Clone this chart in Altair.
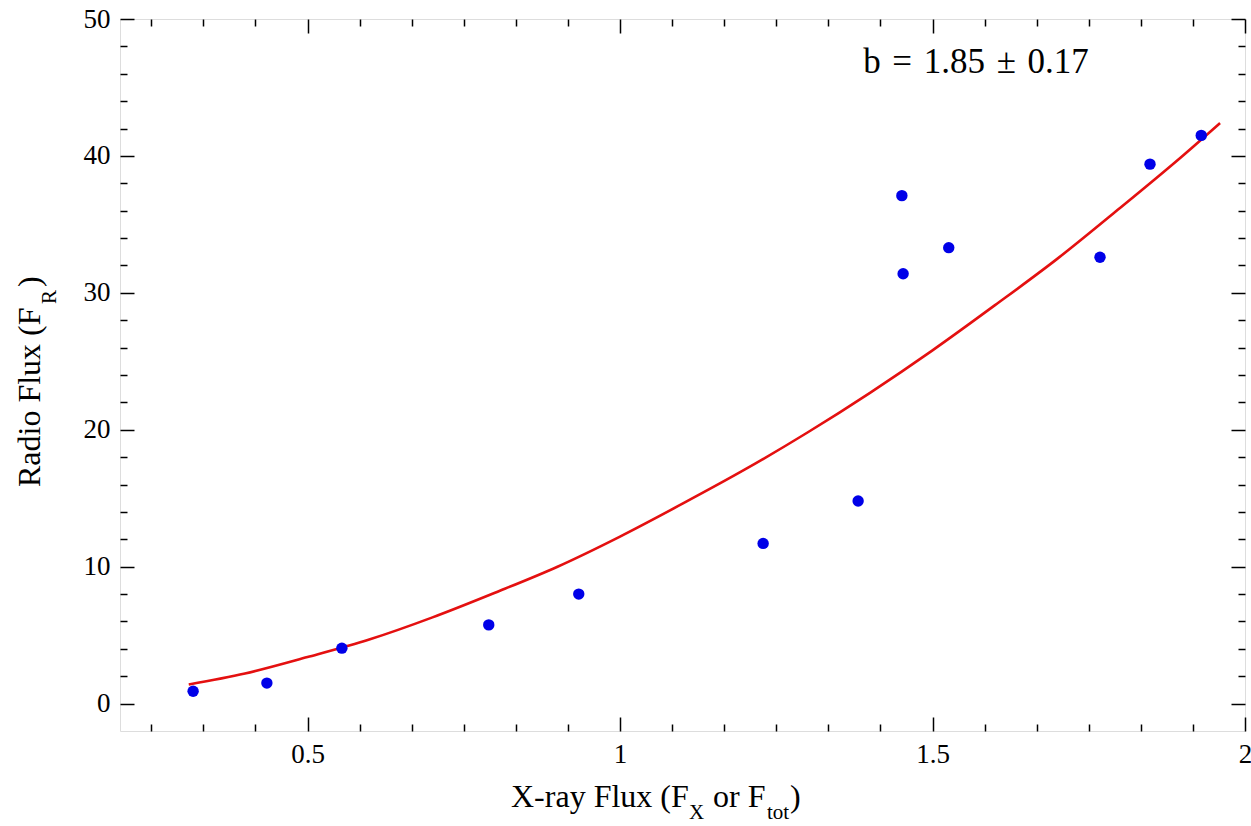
import altair as alt
import pandas as pd

# ---- data ----
x_flux = [0.317, 0.435, 0.555, 0.790, 0.934, 1.229, 1.381, 1.451, 1.453, 1.526, 1.768, 1.848, 1.930]
r_flux = [0.9, 1.5, 4.05, 5.75, 8.0, 11.7, 14.8, 37.1, 31.4, 33.3, 32.6, 39.4, 41.5]

fit_x = [0.31, 0.40, 0.50, 0.60, 0.70, 0.80, 0.90, 1.00, 1.10, 1.20, 1.30, 1.40, 1.50, 1.60, 1.70, 1.80, 1.90, 1.96]
fit_y = [1.4, 2.2, 3.4, 4.7, 6.3, 8.1, 10.0, 12.2, 14.6, 17.1, 19.8, 22.7, 25.8, 29.1, 32.5, 36.2, 40.0, 42.4]

x_major_ticks = [0.5, 1.0, 1.5, 2.0]
x_minor_ticks = [0.25, 0.3333, 0.4167, 0.5833, 0.6667, 0.75, 0.8333, 0.9167,
                 1.0833, 1.1667, 1.25, 1.3333, 1.4167, 1.5833, 1.6667, 1.75, 1.8333, 1.9167]
y_major_ticks = [0, 10, 20, 30, 40, 50]
y_minor_ticks = [2, 4, 6, 8, 12, 14, 16, 18, 22, 24, 26, 28, 32, 34, 36, 38, 42, 44, 46, 48]

annotation = "b\u2004=\u20041.85\u2004\u00b1\u20040.17"
ann_x = [1.389]
ann_y = [46.05]

FONT = "Liberation Serif"
W, H = 1125, 712
MAJ, MIN = 14, 7

pts = pd.DataFrame({"x": x_flux, "y": r_flux})
fit = pd.DataFrame({"x": fit_x, "y": fit_y})
ann = pd.DataFrame({"x": ann_x, "y": ann_y, "t": [annotation]})

xscale = alt.Scale(domain=[0.2, 2.0], nice=False, zero=False)
yscale = alt.Scale(domain=[-2, 50], nice=False, zero=False)

common = dict(grid=False, title=None, domain=False, tickColor="black", tickWidth=1.5,
              labelFont=FONT, labelFontSize=27, labelColor="black",
              labelFlush=False, labelOverlap=False)


def axis(orient, values, size, labels=False):
    kw = dict(common)
    kw.update(orient=orient, values=values, tickSize=size, offset=-size, labels=labels)
    if labels:
        kw["labelPadding"] = 10
        kw["labelExpr"] = "format(datum.value, '~g')"
    return alt.Axis(**kw)


line = alt.Chart(fit).mark_line(color="#e41010", strokeWidth=2.6, interpolate="monotone").encode(
    x=alt.X("x:Q", scale=xscale, axis=axis("bottom", x_major_ticks, MAJ, True)),
    y=alt.Y("y:Q", scale=yscale, axis=axis("left", y_major_ticks, MAJ, True)),
)

points = alt.Chart(pts).mark_circle(size=130, color="#0000e8", opacity=1).encode(
    x=alt.X("x:Q", scale=xscale, axis=axis("bottom", x_minor_ticks, MIN)),
    y=alt.Y("y:Q", scale=yscale, axis=axis("left", y_minor_ticks, MIN)),
)

ann_layer = alt.Chart(ann).mark_text(font=FONT, fontSize=35, align="left", baseline="alphabetic",
                                      color="black").encode(
    x=alt.X("x:Q", scale=xscale, axis=axis("top", x_major_ticks, MAJ)),
    y=alt.Y("y:Q", scale=yscale, axis=axis("right", y_major_ticks, MAJ)),
    text="t:N",
)

mirror_minor = alt.Chart(pts).mark_point(opacity=0).encode(
    x=alt.X("x:Q", scale=xscale, axis=axis("top", x_minor_ticks, MIN)),
    y=alt.Y("y:Q", scale=yscale, axis=axis("right", y_minor_ticks, MIN)),
)

one = pd.DataFrame({"a": [0]})


def piece(txt, x, y, size, angle=0):
    kw = dict(text=txt, font=FONT, fontSize=size, align="left", baseline="alphabetic", color="black")
    if angle:
        kw["angle"] = angle
    return alt.Chart(one).mark_text(**kw).encode(x=alt.value(x), y=alt.value(y))


# x-axis title: X-ray Flux (F_X or F_tot)
xt0 = 391
x_title = [
    piece("X-ray Flux (F", xt0, 788, 32),
    piece("X", xt0 + 178, 800, 21),
    piece("or F", xt0 + 202, 788, 32),
    piece("tot", xt0 + 256, 800, 21),
    piece(")", xt0 + 279, 788, 32),
]

# y-axis title: Radio Flux (F_R)
yt0 = 468
y_title = [
    piece("Radio Flux (F", -80, yt0, 32, 270),
    piece("R", -64, yt0 - 183, 21, 270),
    piece(")", -80, yt0 - 200, 32, 270),
]

chart = alt.layer(line, points, ann_layer, mirror_minor, *x_title, *y_title).resolve_axis(
    x="independent", y="independent"
).properties(
    width=W, height=H,
    padding={"left": 120, "top": 19, "right": 6, "bottom": 95},
    autosize="none",
).configure_view(stroke="black", strokeWidth=1.5).configure(background="white")

chart.save("out.html", embed_options={"renderer": "svg", "actions": False})
